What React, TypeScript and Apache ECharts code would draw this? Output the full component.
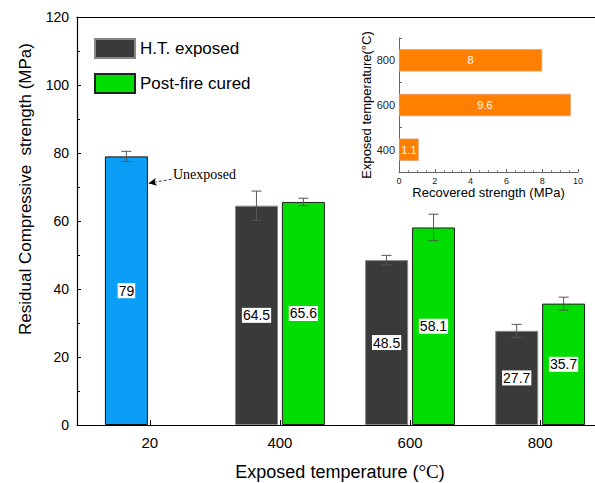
import React, { useEffect, useRef } from "react";
import * as echarts from "echarts";

const tempLabels = ["20", "400", "600", "800"];
const tempPos = [1, 2, 3, 4];
const htValues = [79, 64.5, 48.5, 27.7];
const htErrors = [1.5, 4.3, 1.4, 1.9];
const pfPos = [2, 3, 4];
const pfValues = [65.6, 58.1, 35.7];
const pfErrors = [1.1, 3.9, 1.9];
const insetCats = ["400", "600", "800"];
const insetValues = [1.1, 9.6, 8];

const SANS = "'Liberation Sans', Arial, sans-serif";
const SERIF = "'Liberation Serif', 'Times New Roman', serif";
const BAR_W = 43;
const HALF = BAR_W / 2 + 2;

export default function App() {
  const ref = useRef<HTMLDivElement>(null);
  useEffect(() => {
    if (!ref.current) return;
    const chart = echarts.init(ref.current, undefined, { renderer: "svg" });

    const htData = htValues.map((v, i) =>
      i === 0
        ? { value: [tempPos[i], v], itemStyle: { color: "#0a9ef7", borderColor: "#111" } }
        : { value: [tempPos[i], v] }
    );
    const pfData = pfValues.map((v, i) => ({ value: [pfPos[i], v] }));
    const errData: number[][] = [];
    htValues.forEach((v, i) => errData.push([tempPos[i], v, htErrors[i], -1]));
    pfValues.forEach((v, i) => errData.push([pfPos[i], v, pfErrors[i], 1]));

    const valLabel = {
      show: true,
      position: "inside",
      formatter: (p: any) => String(p.value[1]),
      backgroundColor: "#fff",
      color: "#000",
      fontSize: 14,
      fontFamily: SANS,
      padding: [1, 1, 0, 1],
    };

    chart.setOption({
      animation: false,
      backgroundColor: "#fff",
      grid: [
        { left: 77, top: 17, width: 536, height: 408, outerBoundsMode: "none", containLabel: false },
        { left: 399, top: 38, width: 179, height: 134, outerBoundsMode: "none", containLabel: false },
      ],
      legend: {
        left: 94,
        top: 38,
        padding: 0,
        orient: "vertical",
        icon: "rect",
        itemWidth: 40,
        itemHeight: 19,
        itemGap: 14,
        data: ["H.T. exposed", "Post-fire cured"],
        textStyle: { fontSize: 17, fontFamily: SANS, color: "#000", lineHeight: 20 },
      },
      xAxis: [
        {
          type: "value",
          gridIndex: 0,
          min: 0.44,
          max: 4.56,
          splitLine: { show: false },
          axisLine: { show: true, lineStyle: { color: "#000", width: 1.2 } },
          axisTick: { show: true, inside: true, length: 5, customValues: tempPos, lineStyle: { color: "#000" } },
          axisLabel: {
            customValues: tempPos,
            formatter: (v: number) => tempLabels[Math.round(v) - 1] ?? "",
            fontSize: 15,
            fontFamily: SANS,
            color: "#000",
            margin: 10,
          },
          name: "Exposed temperature ({s|°C})",
          nameLocation: "middle",
          nameGap: 37,
          nameTextStyle: {
            fontSize: 18,
            fontFamily: SANS,
            color: "#000",
            padding: [0, 10, 0, 0],
            rich: { s: { fontSize: 19, fontFamily: SERIF, color: "#000" } },
          },
        },
        {
          type: "value",
          gridIndex: 0,
          position: "top",
          min: 0.44,
          max: 4.56,
          splitLine: { show: false },
          axisLine: { show: true, lineStyle: { color: "#000", width: 1.2 } },
          axisTick: { show: false },
          axisLabel: { show: false },
        },
        {
          type: "value",
          gridIndex: 1,
          min: 0,
          max: 10,
          interval: 2,
          splitLine: { show: false },
          axisLine: { show: true, lineStyle: { color: "#666" } },
          axisTick: { show: true, inside: true, length: 3, lineStyle: { color: "#666" } },
          minorTick: { show: true, splitNumber: 4, length: 2, lineStyle: { color: "#888" } },
          axisLabel: { fontSize: 9, fontFamily: SANS, color: "#222", margin: 4 },
          name: "Recovered strength (MPa)",
          nameLocation: "middle",
          nameGap: 13,
          nameTextStyle: { fontSize: 13, fontFamily: SANS, color: "#000", verticalAlign: "top" },
        },
      ],
      yAxis: [
        {
          type: "value",
          gridIndex: 0,
          min: 0,
          max: 120,
          interval: 20,
          splitLine: { show: false },
          axisLine: { show: true, lineStyle: { color: "#000", width: 1.2 } },
          axisTick: { show: true, inside: true, length: 4, lineStyle: { color: "#000" } },
          minorTick: { show: true, splitNumber: 2, length: 3, lineStyle: { color: "#000" } },
          axisLabel: { fontSize: 14, fontFamily: SANS, color: "#000", margin: 8 },
        },
        {
          type: "category",
          gridIndex: 1,
          data: insetCats,
          axisLine: { show: true, lineStyle: { color: "#666" } },
          axisTick: { show: true, inside: true, length: 3, lineStyle: { color: "#666" } },
          axisLabel: { fontSize: 11, fontFamily: SANS, color: "#222", margin: 4 },
          name: "Exposed temperature(°C)",
          nameLocation: "middle",
          nameGap: 22,
          nameTextStyle: { fontSize: 13, fontFamily: SANS, color: "#000" },
        },
      ],
      series: [
        {
          name: "H.T. exposed",
          type: "bar",
          xAxisIndex: 0,
          yAxisIndex: 0,
          barWidth: BAR_W,
          barGap: "9%",
          itemStyle: { color: "#3a3a3a", borderColor: "#888", borderWidth: 1 },
          label: valLabel,
          data: htData,
        },
        {
          name: "Post-fire cured",
          type: "bar",
          xAxisIndex: 0,
          yAxisIndex: 0,
          barWidth: BAR_W,
          barGap: "9%",
          itemStyle: { color: "#00dd00", borderColor: "#222", borderWidth: 1 },
          label: valLabel,
          data: pfData,
        },
        {
          type: "custom",
          xAxisIndex: 0,
          yAxisIndex: 0,
          z: 10,
          silent: true,
          renderItem: (params: any, api: any) => {
            const x = api.value(0);
            const y = api.value(1);
            const e = api.value(2);
            const side = api.value(3);
            const top = api.coord([x, y + e]);
            const bot = api.coord([x, y - e]);
            const px = top[0] + side * HALF;
            const st = { stroke: "#555", lineWidth: 1 };
            return {
              type: "group",
              children: [
                { type: "line", shape: { x1: px, y1: top[1], x2: px, y2: bot[1] }, style: st },
                { type: "line", shape: { x1: px - 5, y1: top[1], x2: px + 5, y2: top[1] }, style: st },
                { type: "line", shape: { x1: px - 5, y1: bot[1], x2: px + 5, y2: bot[1] }, style: st },
              ],
            };
          },
          data: errData,
          markLine: {
            silent: true,
            symbol: ["none", "arrow"],
            symbolSize: [6, 8],
            label: { show: false },
            lineStyle: { type: [3, 2], color: "#000", width: 0.8 },
            data: [[{ coord: [1.167, 72.3] }, { coord: [0.99, 71.1] }]],
          },
        },
        {
          type: "bar",
          xAxisIndex: 2,
          yAxisIndex: 1,
          barWidth: "50%",
          itemStyle: { color: "#ff8000", borderColor: "#e0a070", borderWidth: 0.8 },
          label: { show: true, position: "inside", color: "#fff", fontSize: 11, fontFamily: SANS },
          data: insetValues,
        },
      ],
      graphic: [
        {
          type: "text",
          x: 25,
          y: 189,
          rotation: Math.PI / 2,
          style: {
            text: "Residual Compressive  strength (MPa)",
            font: `17px ${SANS}`,
            fill: "#000",
            textAlign: "center",
            textVerticalAlign: "middle",
          },
        },
        {
          type: "text",
          x: 173,
          y: 174,
          style: {
            text: "Unexposed",
            font: `14px ${SERIF}`,
            fill: "#000",
            textAlign: "left",
            textVerticalAlign: "middle",
          },
        },
      ],
    });
    return () => chart.dispose();
  }, []);
  return (
    <div
      ref={ref}
      style={{ position: "absolute", left: 0, top: 0, width: 595, height: 483 }}
    />
  );
}
